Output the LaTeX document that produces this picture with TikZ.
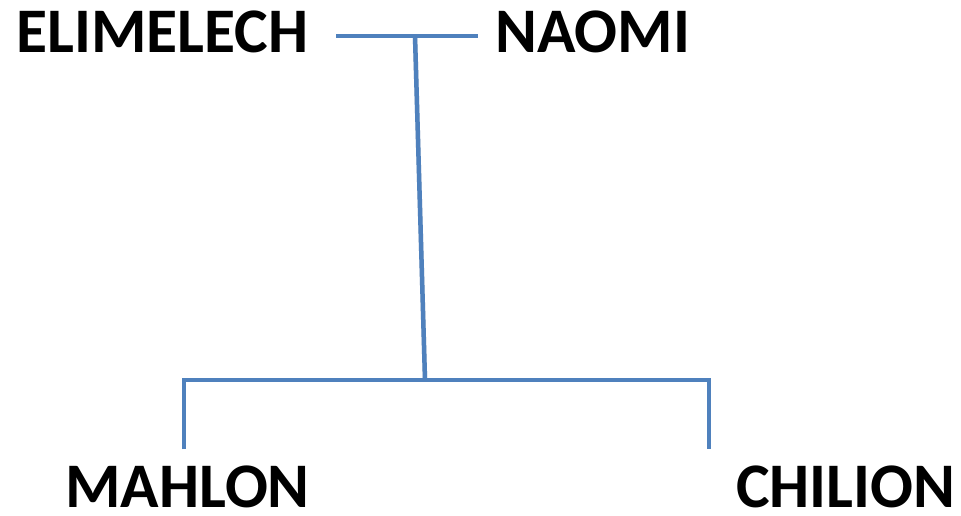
\documentclass[tikz,border=0pt]{standalone}
\usepackage{fontspec}
\setmainfont{Carlito}
\definecolor{linkblue}{HTML}{4F81BD}
\definecolor{shade}{HTML}{C8C8C8}
\begin{document}
\begin{tikzpicture}[x=1pt,y=-1pt,
  person/.style={font=\fontsize{63.5}{63.5}\selectfont\bfseries, inner sep=0pt, text depth=0pt, anchor=base west},
  link/.style={draw=linkblue, line width=4.5pt},
  linkshade/.style={draw=shade, line width=4.5pt, opacity=0.6}]
\useasboundingbox[fill=white] (0,0) rectangle (961,516);
\node[person] (eli) at (16,53) {ELIMELECH};
\node[person] (nao) at (495,53) {NAOMI};
\node[person] (mah) at (65,507) {MAHLON};
\node[person] (chi) at (736,507) {CHILION};
\coordinate (mL) at (336,36);
\coordinate (mR) at (478,36);
\coordinate (mT) at (415,36);
\coordinate (cT) at (425,380);
\coordinate (hL) at (184,380);
\coordinate (hR) at (709,380);
\coordinate (dL) at (184,449);
\coordinate (dR) at (709,449);
\begin{scope}[shift={(1.5,1.5)}]
\draw[linkshade] (mL) -- (mR);
\draw[linkshade] (mT) -- (cT);
\draw[linkshade] (dL) -- (hL) -- (hR) -- (dR);
\end{scope}
\draw[link] (mL) -- (mR);
\draw[link] (mT) -- (cT);
\draw[link] (dL) -- (hL) -- (hR) -- (dR);
\end{tikzpicture}
\end{document}
